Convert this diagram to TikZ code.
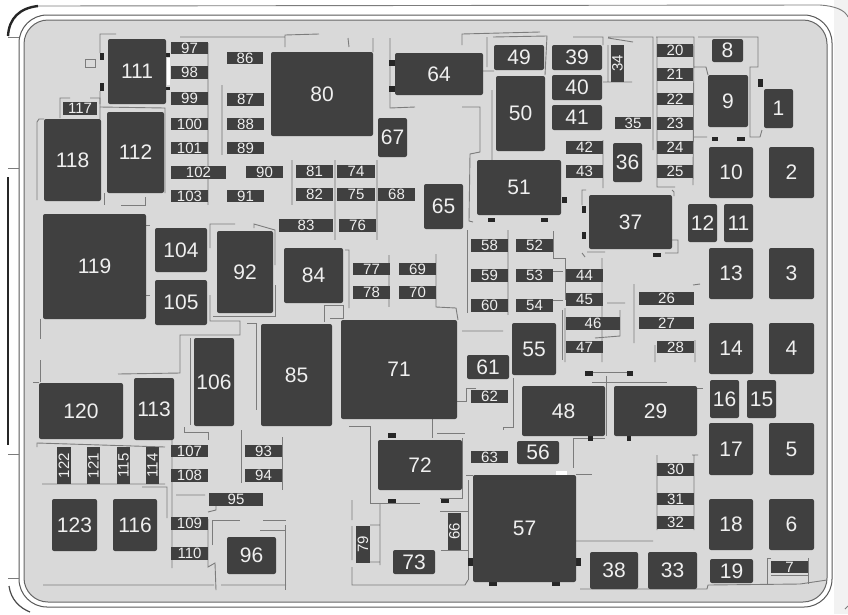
\documentclass[tikz,border=0pt]{standalone}
\usepackage{fontspec}
\setmainfont{Liberation Sans}
\definecolor{panelgray}{HTML}{D9D9D9}
\definecolor{fusegray}{HTML}{404040}
\definecolor{tracegray}{HTML}{7C7C7C}
\definecolor{ribgray}{HTML}{B4B4B4}
\definecolor{labelgray}{HTML}{EFEFEF}
\tikzset{
  bigfuse/.style={fill=fusegray, text=labelgray, inner sep=0pt, rounded corners=2pt, font=\fontsize{21}{21}\selectfont},
  smallfuse/.style={fill=fusegray, text=labelgray, inner sep=0pt, font=\fontsize{15}{15}\selectfont},
  trace/.style={draw=tracegray, line width=0.9pt},
  rib/.style={draw=ribgray, line width=2pt},
  frameline/.style={draw=black!65, line width=1pt}
}
\begin{document}
\begin{tikzpicture}[x=1pt,y=-1pt]
    \useasboundingbox (0,0) rectangle (848,614);
    % housing: white band, then the grey panel
    \fill[black!5] (834,0) rectangle (848,614);
    \fill[white] (8,6) rectangle (834,612);
    \draw[frameline, fill=white] (19,15) [rounded corners=28pt] -- (19,607) -- (832,607) -- (832,15) -- cycle;
    \draw[frameline, draw=black!60, fill=panelgray] (24,20) [rounded corners=24pt] -- (24,602) -- (827,602) -- (827,20) -- cycle;
    \draw[line width=2.4pt, black!85] (8,36) .. controls (9,18) and (20,8) .. (38,6);
    \draw[trace] (38,6) -- (820,5) .. controls (835,6) and (845,10) .. (848,17);
    \draw[line width=1.5pt, black!85] (8,177) -- (8,445);
    \draw[line width=1.2pt, black!70] (9,586) .. controls (11,600) and (20,608) .. (30,612);
    \draw[trace] (8,37) -- (19,37) (8,168) -- (19,168) (8,454) -- (19,454) (8,578) -- (19,578);
    \draw[trace] (845,609) -- (848,606);

    % long ribs between the fuse rows
    \draw[rib] (222,85) -- (222,155) (208,43) -- (208,205) (292,160) -- (292,205)
      (335,160) -- (335,240) (377,160) -- (377,240) (389,255) -- (389,307) (508,230) -- (508,315);

    % printed traces
    \draw[trace] (116,34) -- (100,34) -- (100,53) (100,91) -- (100,104) (100,107) -- (165,108) -- (165,193);
    \draw[trace] (180,37) -- (285,37) -- (285,35) -- (319,34) (285,35) -- (285,47) (348,38) -- (349,47);
    \draw[trace] (44,119) -- (39,119) -- (37,122) -- (37,200) (60,118) -- (60,98) -- (70,98) (90,98) -- (100,98) -- (100,119);
    \draw[trace] (104,193) -- (104,205) (121,205) -- (145,205) -- (145,197) (146,225) -- (150,225) (146,295) -- (150,295);
    \draw[trace] (40,319) -- (40,339) (40,360) -- (40,382) (33,382) -- (39,382);
    \draw[trace] (210,248) -- (210,224) -- (235,224) (254,228) -- (254,224) -- (275,230) -- (275,265);
    \draw[trace] (210,295) -- (210,321) -- (240,321) -- (240,335) -- (180,335) -- (180,373) -- (118,374);
    \draw[trace] (213,316) -- (275,316) -- (275,285) (247,323) -- (256,323) -- (256,410) (190,338) -- (190,425);
    \draw[trace] (184,427) -- (184,432) -- (208,432) -- (208,440) (241,430) -- (241,483) (282,437) -- (282,490);
    \draw[trace] (37,447) -- (37,443) -- (165,447) (42,484) -- (165,484) (142,487) -- (167,487) -- (167,518);
    \draw[trace] (172,440) -- (172,568) (176,495) -- (205,495) (208,512) -- (216,510) -- (216,495);
    \draw[trace] (208,519) -- (208,567) -- (215,563) -- (216,590) (43,585) -- (214,585) (221,585) -- (286,585);
    \draw[trace] (212,545) -- (212,520) -- (240,520) (263,520) -- (286,520) (260,530) -- (285,530) (285,525) -- (285,590);
    \draw[trace] (345,250) -- (349,250) -- (349,308) (436,254) -- (436,307) -- (456,308) -- (458,320) (462,331) -- (503,331);
    \draw[trace] (324,322) -- (324,305) -- (343,305) -- (343,318) -- (330,318);
    \draw[trace] (467,230) -- (467,313) (553,231) -- (553,258) -- (565,258) -- (565,300) (553,271) -- (563,271) (553,300) -- (563,300) (562,310) -- (562,360);
    \draw[trace] (476,388) -- (466,388) -- (466,401) -- (457,401) (513,378) -- (513,427) -- (503,427) -- (503,430);
    \draw[trace] (349,426) -- (370,426) -- (370,503) -- (380,503) -- (420,503) (432,419) -- (432,438) (437,433) -- (465,433) (462,438) -- (462,498) -- (440,498);
    \draw[trace] (380,504) -- (380,565) (352,500) -- (352,520) (352,526) -- (352,560) (352,567) -- (352,585) -- (465,585) -- (468,580) (370,525) -- (380,525) (370,562) -- (380,562);
    \draw[trace] (440,511) -- (468,511) (441,550) -- (468,550) (468,480) -- (468,580) (466,475) -- (473,475);
    \draw[trace] (390,38) -- (390,108) -- (415,107) (373,38) -- (373,52) (462,45) -- (462,34) -- (540,32) (487,37) -- (487,67) (483,71) -- (494,71);
    \draw[trace] (493,37) -- (547,36) -- (545,75) (462,107) -- (480,107) -- (480,152) -- (470,154) -- (469,221) -- (473,222) (492,90) -- (492,160);
    \draw[trace] (573,37) -- (603,37) -- (603,45) (608,38) -- (633,42) (608,37) -- (653,37) -- (653,150) (608,45) -- (608,82) -- (603,82) (608,82) -- (632,82);
    \draw[trace] (603,140) -- (603,188) (656,37) -- (694,37) -- (693,185) (657,37) -- (657,187) -- (675,187) (694,67) -- (706,67) -- (708,75) (707,137) -- (694,137);
    \draw[trace] (698,37) -- (758,37) -- (758,67) -- (750,67) -- (750,137) -- (760,137) -- (762,130);
    \draw[trace] (586,190) -- (582,190) -- (582,205) (672,190) -- (674,192) -- (674,196) (672,240) -- (678,240) -- (678,253) -- (665,253) (587,252) -- (605,252) (582,253) -- (585,257);
    \draw[trace] (565,308) -- (565,362) (602,258) -- (602,362) (607,303) -- (625,303) (620,310) -- (620,336) -- (595,338) (634,284) -- (634,343) (693,285) -- (700,284) (655,345) -- (655,362) (695,340) -- (695,362);
    \draw[trace] (590,372) -- (630,372) (606,376) -- (606,436) (592,382) -- (667,382) (697,388) -- (703,388) (573,438) -- (573,468) (573,438) -- (605,438) (576,474) -- (592,474);
    \draw[trace] (657,455) -- (657,530) (694,455) -- (694,530) (692,455) -- (698,455) (576,541) -- (653,541) (580,589) -- (707,589) -- (708,585) -- (800,584) -- (827,580);
    \draw[trace] (771,558) -- (767,558) -- (767,584) (808,558) -- (808,584) (771,575) -- (808,575);
    \draw[trace] (85,59) rectangle (95,67);

    % black clips on the relays
    \foreach \xa/\ya/\xb/\yb in {100/53/104/60, 100/83/104/91, 166/53/170/57, 166/87/170/90,
      389/60/395/66, 389/86/395/92, 488/218/495/222, 541/218/548/222, 562/197/567/203,
      582/206/586/213, 582/232/586/239, 653/253/661/257, 712/137/718/141, 737/137/745/141,
      758/79/763/87, 627/436/631/441, 588/436/593/441, 585/371/593/376, 627/371/633/376,
      388/433/396/438, 388/499/396/503, 441/499/449/503, 468/558/473/566, 489/582/497/586,
      552/582/560/586, 576/558/581/566}
      \fill[black!85] (\xa,\ya) rectangle (\xb,\yb);
    \fill[white] (167,58) rectangle (170,85);
    \fill[white] (556,471) rectangle (567,475);

    % big fuses and relays: label / left / top / right / bottom
    \foreach \n/\xa/\ya/\xb/\yb in {1/764/89/793/128, 2/769/147/814/198, 3/769/248/814/299, 4/769/323/814/374,
      5/769/423/814/475, 6/769/499/814/550, 8/712/39/743/62, 9/708/75/748/127, 10/709/147/753/198,
      11/724/204/753/242, 12/688/204/717/242, 13/709/248/753/299, 14/709/323/753/374, 15/747/380/776/418,
      16/710/380/739/418, 17/709/423/753/475, 18/709/499/753/550, 19/710/559/753/583, 29/614/386/697/436,
      33/648/552/697/589, 36/613/143/642/182, 37/589/195/672/249, 38/590/552/638/589, 39/552/45/602/70,
      40/552/75/602/100, 41/552/105/602/130, 48/522/386/605/436, 49/494/45/544/70, 50/496/76/545/151,
      51/477/160/561/215, 55/512/323/556/375, 56/517/441/559/464, 57/473/475/576/582, 61/467/355/509/379,
      64/395/53/483/95, 65/424/184/463/229, 67/378/118/407/157, 71/341/320/457/419, 72/378/440/462/490,
      73/393/550/435/574, 80/271/52/373/136, 84/284/248/343/303, 85/261/324/332/426, 92/217/231/273/313,
      96/227/537/276/574, 104/155/228/207/272, 105/155/280/207/325, 106/194/338/234/426, 111/108/39/166/104,
      112/107/112/164/193, 113/134/378/174/440, 116/113/499/157/551, 118/44/119/101/201, 119/43/214/146/319,
      120/39/383/123/439, 123/52/499/97/551}
    {
      \pgfmathsetmacro\w{\xb-\xa}
      \pgfmathsetmacro\h{\yb-\ya}
      \node[bigfuse, minimum width=\w pt, minimum height=\h pt] (f\n) at ({(\xa+\xb)/2},{(\ya+\yb)/2}) {\n};
    }

    % small fuses, same order
    \foreach \n/\xa/\ya/\xb/\yb in {7/771/561/808/573, 20/657/44/693/57, 21/657/68/693/81, 22/657/93/693/105,
      23/657/117/693/130, 24/657/141/693/154, 25/657/165/693/178, 26/639/292/694/305, 27/639/317/694/329,
      28/657/341/694/353, 30/657/463/694/476, 31/657/493/694/505, 32/657/516/694/529, 35/615/117/651/129,
      42/566/141/603/154, 43/566/165/603/178, 44/566/269/603/282, 45/566/293/603/306, 46/566/317/620/330,
      47/566/341/603/353, 52/516/239/553/252, 53/516/269/553/282, 54/516/299/553/312, 58/471/239/508/252,
      59/471/269/508/282, 60/471/299/508/312, 62/471/390/508/403, 63/471/451/508/463, 68/378/188/415/201,
      69/399/263/436/275, 70/399/286/436/299, 74/337/165/375/178, 75/337/188/375/201, 76/339/219/376/232,
      77/353/263/390/275, 78/353/286/390/299, 81/296/165/333/178, 82/296/188/333/201, 83/279/219/333/232,
      86/227/52/263/64, 87/227/93/264/106, 88/227/118/264/130, 89/227/142/264/154, 90/246/166/283/178,
      91/227/190/264/202, 93/245/445/282/457, 94/245/469/282/482, 95/209/493/263/506, 97/171/42/208/54,
      98/171/66/208/79, 99/171/92/208/105, 100/171/118/208/130, 101/171/142/208/154, 102/171/166/226/179,
      103/171/190/208/202, 107/171/445/208/457, 108/171/469/208/482, 109/171/517/208/530, 110/171/547/208/560,
      117/63/102/97/115}
    {
      \pgfmathsetmacro\w{\xb-\xa}
      \pgfmathsetmacro\h{\yb-\ya}
      \node[smallfuse, minimum width=\w pt, minimum height=\h pt] (f\n) at ({(\xa+\xb)/2},{(\ya+\yb)/2}) {\n};
    }

    % the ones standing on end
    \foreach \n/\xa/\ya/\xb/\yb in {34/611/45/624/82, 66/448/513/461/550, 79/356/526/370/563, 114/146/447/159/484,
      115/117/447/130/484, 121/87/447/100/484, 122/57/447/71/484}
    {
      \pgfmathsetmacro\w{\yb-\ya}
      \pgfmathsetmacro\h{\xb-\xa}
      \node[smallfuse, rotate=90, minimum width=\w pt, minimum height=\h pt] (f\n) at ({(\xa+\xb)/2},{(\ya+\yb)/2}) {\n};
    }
\end{tikzpicture}
\end{document}
